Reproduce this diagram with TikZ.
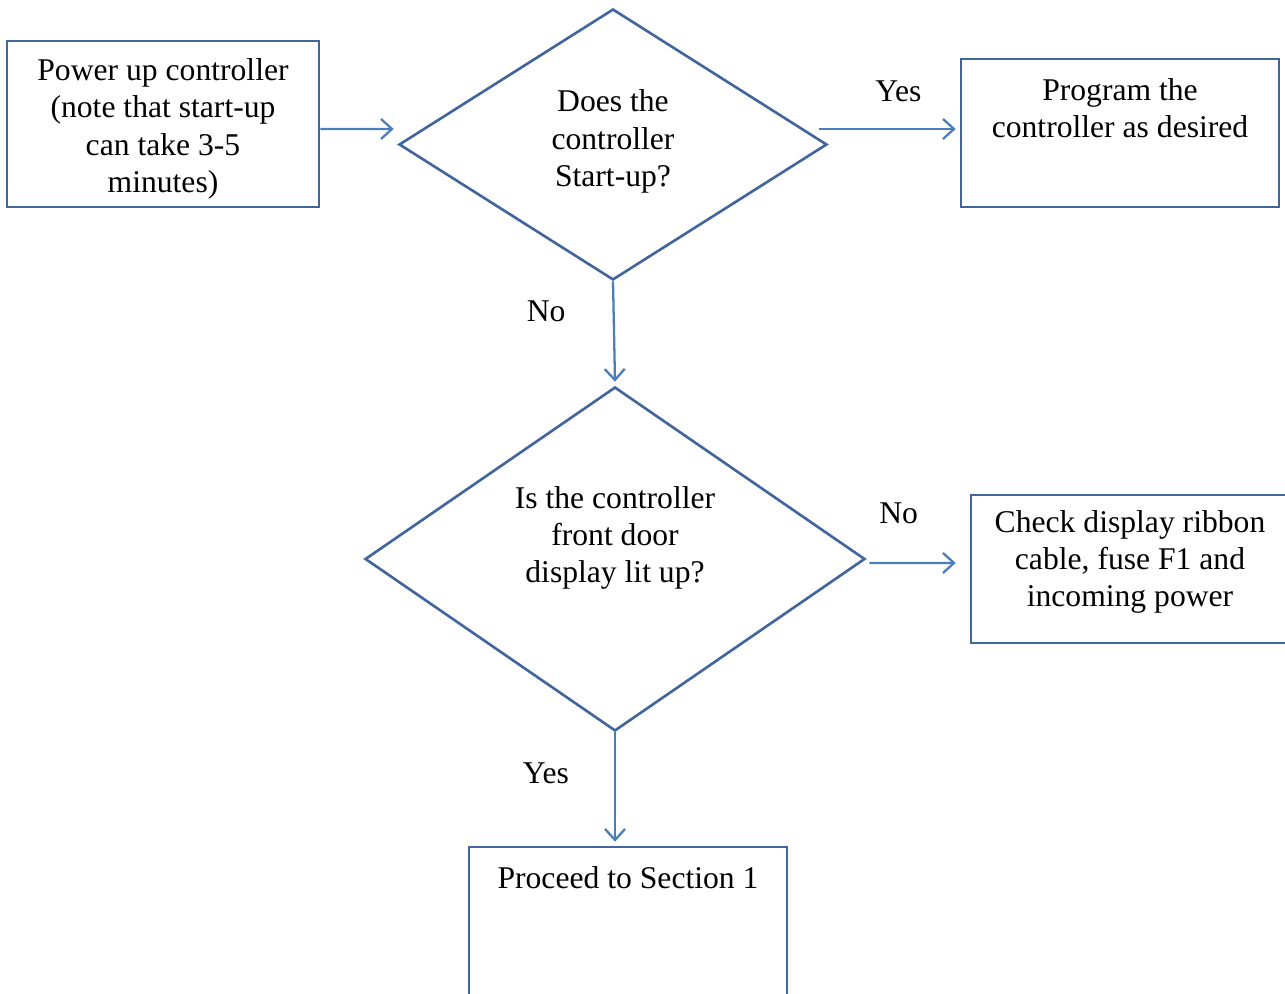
\documentclass[tikz,border=0pt]{standalone}
\usepackage{fontspec}
\setmainfont{Liberation Serif}
\usetikzlibrary{shapes.geometric,arrows.meta}
\definecolor{boxblue}{HTML}{41659C}
\definecolor{arrowblue}{HTML}{4A7EBB}

\begin{document}
\begin{tikzpicture}[
    every node/.style={font=\fontsize{18}{21.2}\selectfont},
    flowbox/.style={draw=boxblue,line width=1.5pt,rectangle,minimum width=6.36cm,minimum height=2.96cm,inner sep=0pt,align=center},
    question/.style={draw=boxblue,line width=1.5pt,diamond,inner sep=0pt},
    txt/.style={align=center,inner sep=0pt},
    arr/.style={draw=arrowblue,line width=1.3pt,-{Straight Barb[length=2.2mm,width=4mm,line width=1.3pt]}},
    lbl/.style={inner sep=0pt}
]
    \useasboundingbox (0,0) rectangle (25.7,19.86);
    \clip (0,0) rectangle (25.7,19.86);
    \node[flowbox,minimum width=6.24cm,minimum height=3.32cm] (power) at (3.26,17.38) {};
    \node[txt] (powertxt) at ([yshift=-0.1cm]power.center) {Power up controller\\(note that start-up\\can take 3-5\\minutes)};
    \node[question,minimum width=8.56cm,minimum height=5.42cm] (start) at (12.26,16.97) {};
    \node[txt] (starttxt) at (12.26,17.03) {Does the\\controller\\Start-up?};
    \node[flowbox] (prog) at (22.40,17.20) {};
    \node[txt] (progtxt) at ([yshift=0.5cm]prog.center) {Program the\\controller as desired};
    \node[question,minimum width=10cm,minimum height=6.88cm] (lit) at (12.30,8.68) {};
    \node[txt] (littxt) at ([yshift=0.42cm]lit.center) {Is the controller\\front door\\display lit up?};
    \node[flowbox] (check) at (22.60,8.48) {};
    \node[txt] (checktxt) at ([yshift=0.14cm]check.center) {Check display ribbon\\cable, fuse F1 and\\incoming power};
    \node[flowbox] (section) at (12.56,1.44) {};
    \node[txt] (sectiontxt) at ([yshift=0.86cm]section.center) {Proceed to Section 1};
    \draw[arr] ([yshift=-0.1cm]power.east) -- ([xshift=-0.08cm,yshift=0.31cm]start.west);
    \draw[arr] ([xshift=-0.18cm,yshift=0.31cm]start.east) -- node[lbl,pos=0.58,yshift=0.76cm] (yes1) {Yes} ([xshift=-0.08cm,yshift=0.08cm]prog.west);
    \draw[arr] (start.south) -- node[lbl,pos=0.3,xshift=-1.35cm] (no1) {No} ([yshift=0.08cm]lit.north);
    \draw[arr] ([xshift=0.06cm,yshift=-0.08cm]lit.east) -- node[lbl,pos=0.34,yshift=1cm] (no2) {No} ([xshift=-0.28cm,yshift=0.12cm]check.west);
    \draw[arr] (lit.south) -- node[lbl,pos=0.375,xshift=-1.38cm] (yes2) {Yes} ([xshift=-0.26cm,yshift=0.08cm]section.north);
\end{tikzpicture}
\end{document}
